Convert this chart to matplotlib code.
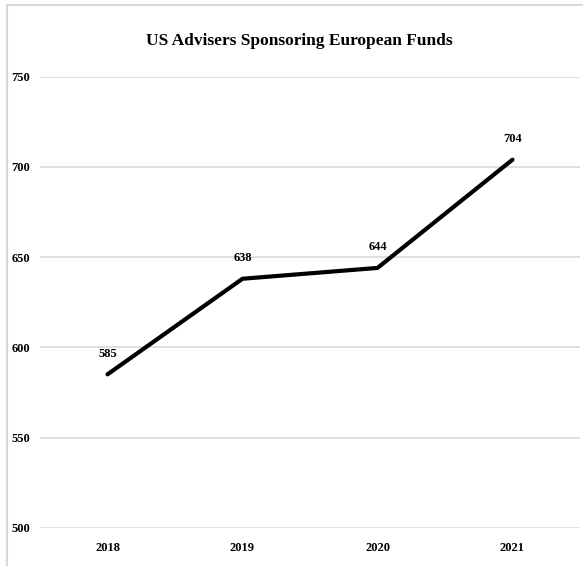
import matplotlib.pyplot as plt
from matplotlib.patches import Rectangle

years = ["2018", "2019", "2020", "2021"]
advisers = [585, 638, 644, 704]
y_ticks = [500, 550, 600, 650, 700, 750]

plt.rcParams["font.family"] = ["Liberation Serif", "DejaVu Serif"]

fig = plt.figure(figsize=(5.83, 5.66), dpi=100)
ax = fig.add_axes([40 / 583, 1 - 527.7 / 566, 540 / 583, (527.7 - 76.7) / 566])

x = list(range(len(years)))
ax.plot(x, advisers, color="black", linewidth=3, solid_capstyle="round")
for xi, v in zip(x, advisers):
    ax.annotate(str(v), (xi, v), xytext=(0, 15), textcoords="offset points",
                ha="center", va="center", fontsize=9, fontweight="bold")

ax.set_xlim(-0.5, len(years) - 0.5)
ax.set_ylim(500, 750)
ax.set_xticks(x)
ax.set_xticklabels(years, fontsize=9, fontweight="bold")
ax.set_yticks(y_ticks)
ax.set_yticklabels([str(t) for t in y_ticks], fontsize=9, fontweight="bold")
ax.tick_params(axis="x", length=0, pad=10)
ax.tick_params(axis="y", length=0, pad=7)
ax.grid(axis="y", color="#d9d9d9", linewidth=1.2)
ax.set_axisbelow(True)
for s in ax.spines.values():
    s.set_visible(False)

fig.text(0.513, 1 - 41 / 566, "US Advisers Sponsoring European Funds",
         ha="center", va="center", fontsize=12.5, fontweight="bold")

# outer chart border (cut off at right/bottom in the reference)
fig.patches.append(Rectangle((7 / 583, -0.1), 1.2, 1.1 - 5 / 566,
                             transform=fig.transFigure, fill=False,
                             edgecolor="#d9d9d9", linewidth=1.5))

fig.savefig("out.png", dpi=100)
